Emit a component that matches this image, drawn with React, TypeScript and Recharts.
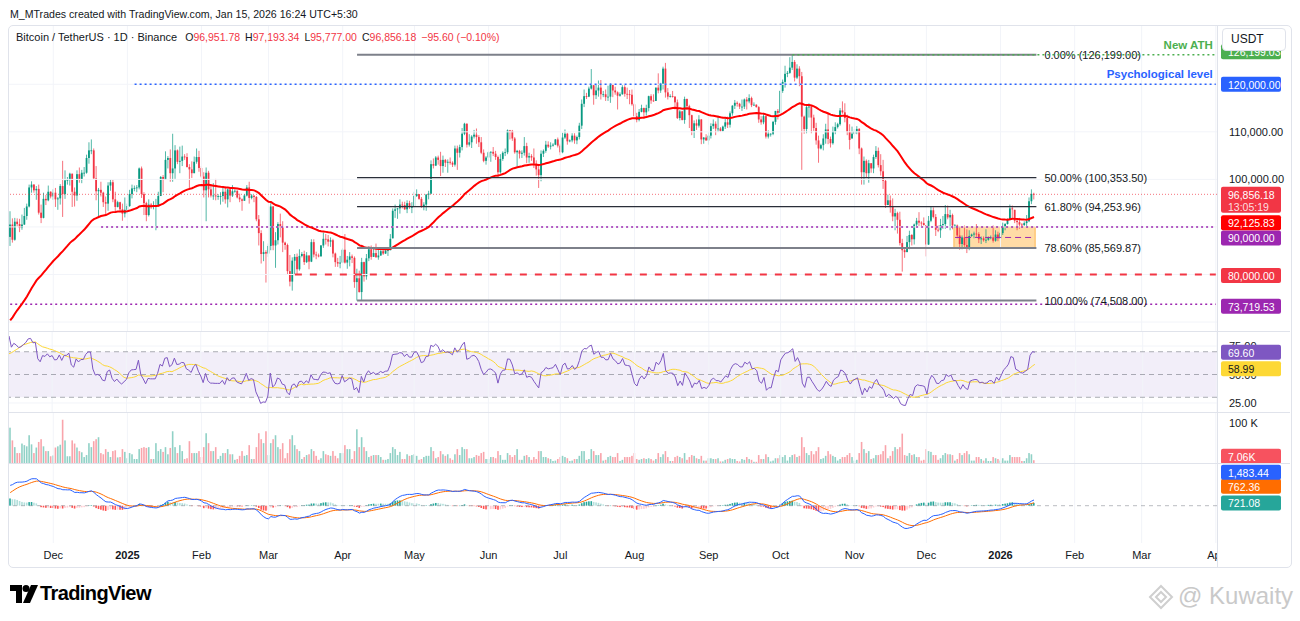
import React from 'react';
import { ComposedChart, Bar, Line, XAxis, YAxis, ReferenceLine, ReferenceArea } from 'recharts';

// Binance BTCUSDT, daily candles, prices in thousand USDT.
// First visible candle 2024-11-13, last one 2026-01-15 (still open).
const firstDay = '2024-11-13';

// closes 2024-09-14 .. 2024-11-12, only used to warm up EMA / RSI / MACD
const warmupClose = [
  60.0, 59.1, 58.2, 60.3, 61.8, 62.9, 63.2, 63.3, 63.6, 63.3, 64.3, 63.1, 65.2, 65.8, 65.9, 65.6, 63.3,
  60.8, 60.6, 60.8, 62.1, 62.1, 62.8, 62.2, 62.1, 60.6, 60.3, 62.4, 63.2, 62.9, 66.0, 67.0, 67.6,
  67.4, 68.4, 68.4, 69.0, 67.4, 67.4, 66.7, 68.2, 66.6, 67.0, 67.9, 69.9, 72.7, 72.3, 70.2,
  69.5, 69.3, 68.7, 67.8, 69.4, 75.6, 75.9, 76.5, 76.7, 80.4, 88.7, 87.9,
];

const close = [
  // Nov 2024
  90.5, 87.3, 91.1, 90.6, 89.8, 90.5, 92.3, 94.3, 98.3, 98.9, 97.7, 98.0, 93.0, 91.9, 95.9, 95.6, 97.4, 96.4,
  // Dec 2024
  97.2, 95.8, 96.0, 98.6, 96.9, 99.8, 99.9, 101.2, 97.4, 96.6, 101.1, 100.0, 101.4, 101.4, 104.5, 106.1,
  106.1, 100.2, 97.5, 97.8, 97.2, 95.2, 94.9, 98.7, 99.4, 95.8, 94.2, 95.2, 93.7, 92.8, 93.6,
  // Jan 2025
  94.4, 96.9, 98.1, 98.2, 98.3, 102.3, 96.9, 95.0, 92.5, 94.7, 94.5, 94.5, 94.5, 96.5, 100.5, 99.9,
  104.1, 104.5, 101.3, 102.3, 106.1, 103.7, 103.9, 104.8, 104.7, 102.6, 102.1, 101.3, 103.7, 104.7, 102.4,
  // Feb
  100.6, 97.7, 101.4, 97.9, 96.6, 96.6, 96.5, 96.5, 96.5, 97.4, 95.8, 97.9, 96.6, 97.5,
  97.6, 96.2, 95.8, 95.5, 96.6, 98.3, 96.1, 96.6, 96.3, 91.6, 88.7, 84.3, 84.7, 84.4,
  // Mar
  86.0, 94.3, 86.1, 87.2, 90.6, 89.9, 86.7, 86.2, 80.7, 78.5, 82.9, 83.7, 81.1, 83.9, 84.3, 82.6,
  84.0, 82.7, 86.8, 84.2, 84.0, 83.8, 86.1, 87.5, 87.4, 86.9, 87.2, 84.4, 82.6, 82.3, 82.5,
  // Apr
  85.2, 82.5, 83.1, 83.8, 83.5, 78.4, 79.2, 76.3, 82.6, 79.6, 83.4, 85.3, 83.7, 84.5, 83.6,
  84.0, 84.9, 84.4, 85.0, 85.1, 87.5, 93.4, 93.7, 93.9, 94.7, 94.6, 93.7, 95.0, 94.2, 94.2,
  // May
  96.5, 96.9, 95.9, 94.3, 94.7, 96.8, 97.0, 103.2, 102.9, 104.6, 104.1, 102.8, 104.1, 103.5, 103.7, 103.5,
  103.1, 106.5, 105.6, 106.8, 109.6, 111.7, 107.3, 107.8, 109.0, 109.4, 108.9, 107.8, 105.6, 103.9, 104.6,
  // Jun
  105.7, 105.8, 105.4, 104.7, 101.5, 104.3, 105.6, 105.7, 110.3, 110.2, 108.6, 105.7, 106.0, 105.4, 105.6,
  107.0, 104.6, 104.9, 104.6, 103.3, 102.1, 100.9, 105.4, 106.0, 107.3, 106.9, 107.1, 107.3, 108.4, 107.1,
  // Jul
  105.7, 108.8, 109.6, 108.0, 108.2, 109.2, 108.2, 108.9, 111.3, 115.9, 117.5, 117.4, 119.1, 119.8, 117.7, 118.7,
  119.3, 117.9, 117.9, 117.3, 117.4, 119.9, 118.7, 118.3, 117.6, 117.9, 119.4, 118.0, 117.9, 117.8, 115.8,
  // Aug
  113.3, 112.5, 114.2, 115.0, 114.1, 115.0, 117.5, 116.6, 116.5, 119.3, 118.7, 120.1, 123.3, 118.3, 117.4, 117.5,
  117.4, 116.2, 112.9, 114.3, 112.5, 116.9, 115.4, 113.5, 110.1, 111.8, 111.3, 112.6, 108.4, 108.8, 108.2,
  // Sep
  109.2, 111.2, 111.7, 110.7, 110.7, 110.2, 111.1, 112.0, 111.5, 113.9, 115.5, 116.1, 115.9, 115.3, 115.3,
  116.8, 116.4, 117.1, 115.6, 115.7, 115.2, 112.6, 112.0, 113.3, 109.0, 109.6, 109.6, 112.1, 114.4, 114.0,
  // Oct
  118.6, 120.5, 122.2, 122.4, 123.5, 124.7, 121.4, 123.3, 121.7, 113.2, 110.6, 115.2, 115.3, 113.0, 110.8, 108.2,
  106.5, 107.2, 108.6, 110.5, 108.5, 107.6, 110.1, 111.0, 111.6, 114.5, 114.1, 112.9, 110.0, 108.3, 109.6,
  // Nov
  110.1, 110.6, 106.5, 101.5, 103.9, 101.3, 103.4, 102.3, 104.7, 106.0, 103.0, 101.7, 99.7, 94.6, 95.6,
  94.3, 92.2, 92.9, 91.5, 86.6, 85.1, 84.7, 86.8, 88.3, 87.4, 90.5, 91.3, 90.9, 90.8, 90.4,
  // Dec
  86.3, 91.3, 93.5, 92.1, 89.4, 89.3, 90.4, 90.6, 92.7, 92.0, 92.5, 90.3, 90.3, 88.2, 86.4, 87.8,
  86.2, 85.5, 88.1, 88.4, 88.6, 88.5, 87.4, 87.6, 87.2, 87.3, 87.8, 87.8, 87.1, 88.4, 87.6,
  // Jan 2026
  88.7, 90.0, 90.6, 91.5, 93.9, 93.7, 91.3, 91.0, 90.5, 90.4, 90.8, 91.2, 95.4, 96.95178, 96.85618,
];

const high = [
  93.3, 91.8, 91.9, 91.8, 91.7, 92.6, 94.0, 94.9, 98.9, 99.6, 99.0, 98.6, 98.9, 94.7, 97.2, 96.7, 98.7, 97.5,
  97.9, 98.2, 96.3, 99.0, 103.9, 101.9, 100.5, 101.4, 101.2, 98.3, 101.9, 102.5, 102.0, 102.6, 105.2, 107.8,
  108.4, 106.5, 102.8, 98.2, 99.5, 97.4, 96.4, 99.4, 99.9, 99.9, 97.4, 95.5, 95.3, 94.9, 96.2,
  94.9, 97.8, 98.9, 98.7, 98.8, 102.5, 102.7, 97.3, 95.3, 95.8, 95.0, 95.4, 95.9, 97.4, 100.7, 100.9,
  105.9, 104.9, 106.3, 109.6, 107.2, 106.3, 106.9, 107.1, 105.3, 105.5, 103.2, 103.8, 104.8, 106.5, 106.0,
  102.8, 101.5, 102.5, 101.8, 99.0, 99.2, 100.1, 96.9, 97.3, 98.3, 98.5, 98.1, 98.1, 98.8,
  97.9, 97.7, 97.0, 96.0, 96.9, 98.8, 99.5, 96.9, 96.6, 96.5, 92.5, 89.3, 87.0, 85.1,
  86.5, 95.0, 94.4, 88.9, 91.0, 92.8, 91.2, 86.9, 86.5, 84.1, 83.6, 84.3, 84.4, 85.3, 84.7, 85.0,
  84.7, 84.0, 87.4, 87.4, 84.8, 84.4, 86.2, 88.8, 88.5, 88.3, 87.8, 87.5, 84.6, 83.5, 83.9,
  85.5, 88.5, 83.9, 84.7, 84.2, 83.8, 81.2, 80.8, 83.5, 82.7, 84.3, 85.9, 86.1, 85.8, 86.5,
  85.5, 85.5, 85.1, 85.6, 85.3, 88.5, 93.9, 94.7, 94.0, 95.8, 95.3, 95.3, 95.6, 95.5, 95.2,
  97.4, 97.9, 96.9, 96.3, 95.2, 96.9, 97.6, 104.0, 104.4, 104.9, 105.0, 105.8, 105.0, 104.3, 104.2, 104.6,
  103.8, 107.1, 107.1, 107.3, 110.8, 111.9, 111.8, 109.5, 109.3, 110.4, 110.7, 109.3, 108.9, 106.3, 104.9,
  105.9, 105.9, 106.8, 106.0, 105.0, 105.3, 105.9, 106.5, 110.5, 110.4, 110.4, 108.9, 106.2, 106.2, 106.1,
  108.9, 107.7, 105.6, 105.3, 106.5, 104.0, 103.0, 106.1, 106.3, 108.1, 108.0, 107.8, 107.6, 108.5, 108.8,
  107.5, 109.8, 110.5, 109.8, 108.4, 109.7, 109.7, 109.2, 111.9, 116.8, 118.9, 118.2, 119.5, 123.2, 119.9, 120.0,
  120.8, 120.9, 118.6, 118.9, 119.7, 120.2, 120.1, 119.5, 118.5, 118.3, 119.8, 119.8, 119.3, 118.8, 118.9,
  116.1, 114.0, 114.8, 115.7, 115.1, 115.7, 117.6, 117.9, 117.9, 119.3, 122.3, 120.3, 123.7, 124.5, 119.2, 117.9,
  118.6, 117.5, 116.8, 114.6, 114.4, 117.4, 117.0, 115.7, 113.6, 112.4, 112.6, 113.5, 112.7, 108.9, 109.5,
  109.9, 111.8, 112.6, 112.2, 113.4, 111.0, 111.3, 112.9, 113.2, 114.3, 115.6, 116.7, 116.4, 116.1, 116.8,
  117.0, 117.3, 117.9, 117.4, 116.2, 115.8, 115.4, 113.3, 113.9, 113.4, 110.3, 109.7, 112.3, 114.4, 114.8,
  118.7, 121.0, 123.9, 122.8, 125.7, 126.2, 125.1, 124.2, 123.8, 122.6, 113.4, 115.8, 116.0, 115.5, 113.6, 111.9,
  109.2, 107.5, 109.5, 111.7, 114.0, 109.0, 111.1, 112.0, 111.9, 115.0, 116.4, 116.0, 113.6, 111.6, 111.1,
  110.6, 111.2, 110.8, 106.7, 104.8, 104.2, 104.1, 103.4, 105.2, 107.0, 106.7, 105.3, 104.1, 99.9, 96.8,
  96.6, 96.0, 93.8, 93.2, 93.2, 87.5, 85.6, 88.1, 89.2, 88.5, 90.7, 91.9, 93.1, 91.2, 92.0,
  90.4, 92.3, 94.2, 94.1, 92.7, 90.3, 91.7, 92.3, 94.6, 94.5, 93.6, 92.8, 90.6, 90.5, 90.1, 88.2,
  90.3, 89.5, 89.3, 88.6, 89.0, 90.6, 88.9, 88.0, 88.0, 89.5, 88.0, 88.2, 90.3, 89.3, 89.0,
  88.9, 90.9, 90.8, 91.8, 94.7, 94.5, 93.6, 91.5, 91.9, 90.8, 91.2, 92.5, 96.2, 97.9, 97.19334,
];

const low = [
  86.0, 86.7, 87.1, 90.1, 88.9, 89.4, 90.4, 91.5, 94.1, 97.2, 97.2, 95.7, 92.6, 90.8, 91.8, 94.6, 95.4, 96.0,
  95.7, 94.2, 93.6, 94.7, 92.1, 95.9, 98.9, 98.7, 94.2, 94.3, 95.5, 99.3, 99.2, 100.6, 101.2, 103.3,
  105.3, 100.0, 95.6, 92.2, 96.4, 94.2, 92.4, 93.4, 97.6, 95.2, 93.3, 94.1, 93.1, 91.3, 92.0,
  92.8, 94.2, 96.0, 97.5, 97.3, 97.9, 96.1, 92.5, 91.2, 92.2, 93.8, 93.7, 89.3, 94.3, 96.5, 97.3,
  99.9, 102.3, 99.5, 99.5, 100.1, 103.2, 101.3, 102.8, 104.1, 102.5, 97.8, 100.3, 101.3, 103.3, 101.6,
  100.3, 96.2, 91.2, 96.2, 96.2, 95.7, 95.6, 95.7, 94.7, 95.3, 94.9, 94.1, 95.2, 96.3,
  97.2, 96.0, 95.2, 93.4, 95.5, 96.4, 94.9, 95.8, 95.2, 91.2, 86.1, 82.3, 82.8, 78.3,
  83.7, 85.1, 85.1, 81.4, 86.3, 87.8, 84.7, 85.2, 80.0, 77.5, 76.6, 79.9, 80.0, 80.8, 83.6, 82.0,
  82.4, 81.1, 82.6, 83.6, 83.2, 83.6, 83.8, 85.6, 86.3, 85.9, 85.8, 83.6, 81.6, 81.6, 81.3,
  82.4, 82.3, 81.2, 81.7, 82.4, 77.2, 74.5, 76.2, 74.6, 78.5, 78.9, 82.8, 83.1, 83.7, 83.6,
  83.1, 83.9, 84.1, 84.3, 83.9, 85.1, 87.6, 91.9, 91.7, 92.8, 93.9, 93.6, 92.9, 93.8, 92.9,
  94.1, 96.3, 95.7, 94.0, 93.5, 93.4, 95.8, 96.9, 102.3, 102.8, 103.1, 100.7, 101.4, 102.6, 101.4, 103.1,
  102.6, 102.7, 102.0, 104.6, 106.1, 109.3, 106.7, 106.9, 106.6, 108.6, 107.5, 106.8, 105.3, 103.6, 103.1,
  103.9, 103.7, 104.9, 104.1, 100.4, 101.2, 103.9, 104.9, 105.3, 108.4, 108.1, 105.4, 102.7, 104.4, 104.5,
  105.0, 103.4, 103.5, 103.9, 102.4, 100.8, 98.2, 99.6, 104.7, 105.6, 106.6, 106.3, 106.9, 107.2, 106.7,
  105.1, 105.5, 108.5, 107.3, 107.8, 107.8, 107.5, 107.4, 108.4, 110.6, 115.2, 116.9, 117.3, 118.9, 115.7, 116.9,
  117.4, 116.8, 117.3, 116.5, 116.5, 116.1, 117.3, 117.8, 114.7, 117.4, 117.8, 117.4, 116.9, 115.8, 115.5,
  112.7, 112.0, 112.2, 114.1, 112.7, 113.4, 114.3, 115.9, 116.3, 116.5, 118.1, 118.2, 118.9, 117.2, 116.8, 117.2,
  117.2, 114.7, 112.7, 112.4, 112.4, 111.7, 114.6, 110.8, 109.3, 108.7, 110.4, 110.9, 107.4, 107.5, 108.1,
  107.3, 108.6, 110.6, 109.3, 110.0, 110.0, 110.0, 110.6, 110.8, 110.9, 113.4, 114.8, 115.3, 114.8, 114.4,
  114.8, 114.7, 116.0, 115.2, 115.5, 115.1, 111.9, 111.5, 111.6, 108.6, 108.6, 109.0, 109.3, 111.5, 112.6,
  113.9, 118.2, 119.3, 121.5, 122.2, 123.0, 120.6, 121.1, 119.6, 102.0, 109.6, 109.7, 113.0, 109.7, 110.2, 107.3,
  103.5, 106.3, 106.1, 107.5, 107.4, 106.7, 107.3, 109.5, 110.7, 111.3, 113.8, 112.0, 109.3, 106.3, 108.6,
  109.4, 109.5, 105.3, 98.9, 98.9, 100.3, 99.3, 101.4, 101.3, 104.3, 102.5, 100.8, 98.0, 94.0, 94.6,
  93.0, 91.2, 89.3, 88.6, 86.1, 80.6, 83.5, 84.7, 85.3, 86.1, 86.3, 90.1, 90.2, 90.2, 90.3,
  83.8, 86.2, 91.0, 91.8, 88.1, 88.9, 87.7, 89.6, 89.6, 91.6, 89.3, 89.5, 89.8, 87.6, 85.2, 85.3,
  85.8, 84.5, 85.1, 87.9, 87.6, 87.9, 86.6, 86.4, 86.9, 86.6, 87.1, 87.4, 86.7, 86.9, 87.0,
  87.5, 88.3, 89.3, 90.5, 91.4, 91.9, 90.8, 89.3, 89.6, 90.1, 90.2, 90.2, 91.0, 94.8, 95.777,
];

// volume, thousand BTC
const volume = [
  89, 57, 40, 25, 25, 49, 45, 42, 70, 47, 25, 39, 53, 60, 42, 30, 30, 17,
  19, 39, 42, 46, 109, 57, 17, 17, 57, 49, 39, 30, 27, 15, 20, 50,
  40, 55, 60, 65, 25, 22, 35, 28, 15, 30, 32, 14, 15, 35, 28,
  12, 25, 22, 10, 10, 35, 38, 40, 38, 40, 10, 10, 50, 30, 35, 28,
  40, 22, 38, 80, 40, 25, 45, 30, 10, 12, 55, 25, 25, 25, 30,
  15, 40, 75, 50, 30, 30, 40, 10, 18, 25, 25, 35, 22, 22,
  8, 10, 18, 30, 18, 20, 45, 10, 10, 40, 75, 60, 50, 80,
  20, 50, 60, 70, 40, 35, 50, 12, 25, 60, 70, 45, 35, 30, 10, 15,
  20, 22, 35, 30, 18, 8, 12, 30, 22, 20, 18, 30, 18, 12, 25,
  25, 45, 35, 35, 10, 30, 85, 40, 65, 40, 30, 15, 18, 20, 20,
  20, 15, 8, 8, 10, 25, 40, 35, 20, 28, 10, 10, 22, 18, 20,
  22, 18, 8, 10, 15, 18, 18, 40, 30, 12, 15, 30, 22, 18, 22, 12,
  8, 22, 35, 20, 40, 35, 35, 12, 12, 15, 20, 18, 25, 28, 10,
  10, 15, 15, 12, 30, 20, 8, 8, 25, 20, 15, 20, 35, 8, 8,
  18, 20, 15, 8, 15, 10, 30, 30, 15, 15, 12, 10, 5, 6, 10,
  15, 18, 15, 12, 5, 6, 10, 10, 18, 30, 30, 8, 10, 35, 30, 20,
  20, 25, 6, 8, 15, 18, 15, 15, 25, 5, 8, 15, 15, 15, 18,
  25, 10, 8, 10, 12, 10, 12, 10, 6, 10, 25, 15, 22, 30, 15, 5,
  5, 15, 18, 15, 12, 25, 8, 15, 20, 18, 12, 10, 18, 6, 6,
  12, 12, 10, 10, 12, 4, 4, 8, 10, 12, 10, 10, 5, 4, 10,
  8, 15, 10, 8, 3, 3, 20, 10, 10, 22, 15, 4, 6, 12, 12,
  20, 15, 20, 6, 15, 20, 22, 15, 18, 65, 40, 25, 20, 30, 22, 30,
  40, 10, 12, 18, 30, 22, 18, 15, 6, 10, 15, 15, 20, 25, 15,
  6, 8, 25, 53, 35, 25, 30, 10, 12, 20, 20, 22, 30, 45, 12,
  18, 30, 40, 35, 40, 74, 20, 18, 25, 20, 22, 15, 15, 6, 8,
  35, 30, 28, 20, 20, 8, 12, 20, 25, 22, 22, 20, 6, 10, 25, 20,
  25, 30, 22, 6, 6, 15, 15, 10, 6, 12, 5, 5, 15, 12, 10,
  6, 12, 6, 6, 20, 15, 15, 15, 15, 5, 5, 12, 25, 22, 7.06,
];

// time axis
const tickDates = [
  '2024-12-01', '2025-01-01', '2025-02-01', '2025-03-01', '2025-04-01', '2025-05-01', '2025-06-01',
  '2025-07-01', '2025-08-01', '2025-09-01', '2025-10-01', '2025-11-01', '2025-12-01', '2026-01-01',
  '2026-02-01', '2026-03-01', '2026-04-01',
];
const tickLabels = ['Dec', '2025', 'Feb', 'Mar', 'Apr', 'May', 'Jun', 'Jul', 'Aug', 'Sep', 'Oct', 'Nov', 'Dec', '2026', 'Feb', 'Mar', 'Apr'];

// drawings
const fibFrom = '2025-04-07';
const fibTo = '2026-01-16';
const fibPct = ['0.00%', '50.00%', '61.80%', '78.60%', '100.00%'];
const fibPrice = [126.199, 100.3535, 94.25396, 85.56987, 74.508];
const athPrice = 126.19903;
const athFrom = '2025-10-06';
const psychPrice = 120;
const psychFrom = '2025-01-04';
const supportPrice = 90;
const supportFrom = '2024-12-21';
const stopPrice = 80;
const stopFrom = '2025-03-12';
const floorPrice = 73.71953;
const boxFrom = '2025-12-13';
const boxTo = '2026-01-15';
const boxLow = 85.56987;
const boxHigh = 90;

// values printed on the scales
const emaReadout = 92.12583;
const rsiReadout = [69.6, 58.99];
const rsiScale = [75, 50, 25];
const macdReadout = [1.48344, 0.76236, 0.72108];
const countdown = '13:05:19';

// ---------------------------------------------------------------------------

const FONT = '"Liberation Sans", Arial, sans-serif';
const TEXT = '#131722';
const GRID = '#f2f4f9';
const UP = '#089981';
const DOWN = '#f23645';
const TAG_X = 1221;
const TAG_W = 60;

const dayIdx = (s: string) => Math.round((Date.parse(s) - Date.parse(firstDay)) / 86400000);
const tickIdx = tickDates.map(dayIdx);
const SLOTS = tickIdx[tickIdx.length - 1] + 1;
const lastSlot = SLOTS - 1;
const fmt = (v: number) => v.toLocaleString('en-US', { minimumFractionDigits: 2, maximumFractionDigits: 2 });

function ema(src: number[], n: number) {
  const k = 2 / (n + 1);
  const out: number[] = [];
  src.forEach((v, i) => out.push(i === 0 ? v : v * k + out[i - 1] * (1 - k)));
  return out;
}

function rsi(src: number[], n: number) {
  const out: (number | null)[] = src.map(() => null);
  let up = 0;
  let dn = 0;
  for (let i = 1; i < src.length; i++) {
    const d = src[i] - src[i - 1];
    const g = Math.max(d, 0);
    const l = Math.max(-d, 0);
    if (i <= n) {
      up += g / n;
      dn += l / n;
    } else {
      up = (up * (n - 1) + g) / n;
      dn = (dn * (n - 1) + l) / n;
    }
    if (i >= n) out[i] = dn === 0 ? 100 : 100 - 100 / (1 + up / dn);
  }
  return out;
}

function sma(src: (number | null)[], n: number) {
  return src.map((_, i) => {
    if (i < n - 1) return null;
    const w = src.slice(i - n + 1, i + 1);
    if (w.some((v) => v == null)) return null;
    return (w as number[]).reduce((a, b) => a + b, 0) / n;
  });
}

const W = warmupClose.length;
const allClose = [...warmupClose, ...close];
const ema50 = ema(allClose, 50);
const rsi14 = rsi(allClose, 14);
const rsiMa = sma(rsi14, 14);
const ema12 = ema(allClose, 12);
const ema26 = ema(allClose, 26);
const macd = ema12.map((v, k) => v - ema26[k]);
const signal = ema(macd, 9);

const rows: any[] = Array.from({ length: SLOTS }, (_, i) => {
  if (i >= close.length) return { i };
  const k = W + i;
  const o = allClose[k - 1];
  const c = close[i];
  const hist = macd[k] - signal[k];
  const prevHist = macd[k - 1] - signal[k - 1];
  let histColor = '#26a69a';
  if (hist >= 0) histColor = hist >= prevHist ? '#26a69a' : '#b2dfdb';
  else histColor = hist < prevHist ? '#ff5252' : '#ffcdd2';
  return {
    i, o, c, h: high[i], l: low[i], v: volume[i], up: c >= o,
    ema: ema50[k], rsi: rsi14[k], rsiMa: rsiMa[k],
    macd: macd[k], signal: signal[k], hist, histColor,
  };
});
const last = rows[close.length - 1];

const Candle = (p: any) => {
  const { x, y, width, height, payload: d } = p;
  if (!d || d.c == null || !height) return null;
  const cx = x + width / 2;
  const span = d.h - d.l || 1;
  const py = (v: number) => Math.min(Math.max(y + ((d.h - v) / span) * height, y), y + height);
  const yo = py(d.o);
  const yc = py(d.c);
  const col = d.up ? UP : DOWN;
  return (
    <g>
      <line x1={cx} x2={cx} y1={y} y2={y + height} stroke={col} strokeOpacity={0.7} />
      <rect x={cx - 0.9} y={Math.min(yo, yc)} width={1.8} height={Math.max(Math.abs(yc - yo), 0.8)} fill={col} />
    </g>
  );
};

const VolBar = (p: any) => {
  const { x, y, width, height, payload: d } = p;
  if (!d || d.v == null) return null;
  return (
    <rect x={x + width / 2 - 0.8} y={y} width={1.6} height={Math.max(height, 0.5)}
      fill={d.up ? 'rgba(8,153,129,0.45)' : 'rgba(242,54,69,0.45)'} />
  );
};

const HistBar = (p: any) => {
  const { x, y, width, height, payload: d } = p;
  if (!d || d.hist == null) return null;
  return (
    <rect x={x + width / 2 - 0.8} y={Math.min(y, y + height)} width={1.6} height={Math.max(Math.abs(height), 0.4)} fill={d.histColor} />
  );
};

function tag(text: string, bg: string, dy = 0, fg = '#fff', sub?: string) {
  return (p: any) => {
    const y = p.viewBox.y + dy;
    return (
      <g>
        <rect x={TAG_X} y={y - 7.5} width={TAG_W} height={sub ? 26 : 15} rx={2} fill={bg} />
        <text x={TAG_X + 7} y={y + 0.5} dominantBaseline="central" fontSize={10.5} fill={fg}>{text}</text>
        {sub && (
          <text x={TAG_X + 7} y={y + 12.5} dominantBaseline="central" fontSize={10.5} fill={fg} fillOpacity={0.85}>{sub}</text>
        )}
      </g>
    );
  };
}

function tagWithNote(text: string, bg: string, note: string, dy = 0) {
  const t = tag(text, bg, dy);
  return (p: any) => (
    <g>
      <text x={p.viewBox.x + p.viewBox.width - 3} y={p.viewBox.y - 10} textAnchor="end" dominantBaseline="central"
        fontSize={11.5} fontWeight={600} fill={bg}>{note}</text>
      {t(p)}
    </g>
  );
}

// plain scale text drawn as a label so that the coloured tags can sit on top of it
const scaleText = (text: string) => (p: any) => (
  <text x={TAG_X + 8} y={p.viewBox.y} dominantBaseline="central" fontSize={11} fill={TEXT}>{text}</text>
);

const fibLabel = (i: number) => (p: any) => (
  <text x={p.viewBox.x + p.viewBox.width + 8} y={p.viewBox.y} dominantBaseline="central" fontSize={11} fill={TEXT}>
    {`${fibPct[i]} (${fmt(fibPrice[i] * 1000)})`}
  </text>
);

const axisProps = { orientation: 'right' as const, width: 83, allowDataOverflow: true, axisLine: false, tickLine: false, tickSize: 0, tickMargin: 0 };
const margin = { top: 0, right: 0, bottom: 0, left: 9 };
const monthGrid = () => tickIdx.map((t) => <ReferenceLine key={'m' + t} x={t} stroke={GRID} />);

const PriceTick = (p: any) => (
  <text x={p.x + 12} y={p.y} dominantBaseline="central" fontSize={11} fill={TEXT}>{fmt(p.payload.value * 1000)}</text>
);

function PricePane() {
  const fFrom = dayIdx(fibFrom);
  const fTo = dayIdx(fibTo);
  const bFrom = dayIdx(boxFrom);
  const bTo = dayIdx(boxTo);
  const boxMid = (boxLow + boxHigh) / 2;
  return (
    <ComposedChart width={1300} height={305} data={rows} margin={margin} barCategoryGap={0} barGap={0}>
      <XAxis dataKey="i" type="category" hide />
      <YAxis {...axisProps} domain={[68.11, 132.26]} ticks={[70, 100, 110]} tick={PriceTick} />
      {monthGrid()}
      {[70, 80, 90, 100, 110, 120].map((p) => <ReferenceLine key={'g' + p} y={p} stroke={GRID} />)}
      <ReferenceArea x1={bFrom} x2={bTo} y1={boxLow} y2={boxHigh} fill="#ffb74d" fillOpacity={0.5} stroke="#ff9800" strokeOpacity={0.6} />
      <ReferenceLine segment={[{ x: bFrom, y: boxMid }, { x: bTo, y: boxMid }]} stroke="#9c27b0" strokeDasharray="6 4" />
      <ReferenceLine y={close[close.length - 1]} stroke={DOWN} strokeOpacity={0.7} strokeDasharray="1 2"
        label={tag(fmt(close[close.length - 1] * 1000), DOWN, 0, '#fff', countdown)} />
      <ReferenceLine segment={[{ x: 0, y: floorPrice }, { x: lastSlot, y: floorPrice }]} stroke="#9c27b0" strokeWidth={1.5} strokeDasharray="2 3"
        label={tag(fmt(floorPrice * 1000), '#9c27b0', 2)} />
      <ReferenceLine segment={[{ x: dayIdx(stopFrom), y: stopPrice }, { x: lastSlot, y: stopPrice }]} stroke="#f23645" strokeWidth={2} strokeDasharray="7 8"
        label={tag(fmt(stopPrice * 1000), '#f23645', 1)} />
      <ReferenceLine segment={[{ x: dayIdx(supportFrom), y: supportPrice }, { x: lastSlot, y: supportPrice }]} stroke="#9c27b0" strokeWidth={1.5} strokeDasharray="2 3"
        label={tag(fmt(supportPrice * 1000), '#9c27b0', 11)} />
      <ReferenceLine segment={[{ x: dayIdx(psychFrom), y: psychPrice }, { x: lastSlot, y: psychPrice }]} stroke="#2962ff" strokeWidth={1.5} strokeDasharray="2 3"
        label={tagWithNote(fmt(psychPrice * 1000), '#2962ff', 'Psychological level')} />
      <Bar dataKey={(r: any) => (r.c == null ? null : [r.l, r.h])} shape={Candle} isAnimationActive={false} />
      <Line dataKey="ema" stroke="#ff0000" strokeWidth={2} dot={false} isAnimationActive={false} />
      {fibPrice.map((p, i) => (
        <ReferenceLine key={'f' + i} segment={[{ x: fFrom, y: p }, { x: fTo, y: p }]}
          stroke={i === 1 || i === 2 ? '#2a2e39' : '#7d808a'} strokeWidth={i === 1 || i === 2 ? 1.2 : 2}
          label={fibLabel(i)} />
      ))}
      <ReferenceLine segment={[{ x: dayIdx(athFrom), y: athPrice }, { x: lastSlot, y: athPrice }]} stroke="#4caf50" strokeWidth={1.5} strokeDasharray="2 3"
        label={tagWithNote(fmt(athPrice * 1000), '#4caf50', 'New ATH', -3)} />
      <ReferenceLine y={emaReadout} stroke="none" label={tag(fmt(emaReadout * 1000), '#ff0000', 6)} />
    </ComposedChart>
  );
}

function RsiPane() {
  return (
    <ComposedChart width={1300} height={82} data={rows} margin={margin}>
      <XAxis dataKey="i" type="category" hide />
      <YAxis {...axisProps} domain={[16.2, 88.2]} ticks={[]} />
      {monthGrid()}
      {[25, 75].map((v) => <ReferenceLine key={'g' + v} y={v} stroke={GRID} />)}
      <ReferenceArea y1={30} y2={70} fill="#7e57c2" fillOpacity={0.1} stroke="none" />
      {[70, 50, 30].map((v) => <ReferenceLine key={'b' + v} y={v} stroke="#787b86" strokeOpacity={0.6} strokeDasharray="5 4" />)}
      <Line dataKey="rsiMa" stroke="#fdd835" strokeWidth={1} dot={false} isAnimationActive={false} />
      <Line dataKey="rsi" stroke="#7e57c2" strokeWidth={1} dot={false} isAnimationActive={false} />
      {rsiScale.map((v) => <ReferenceLine key={'s' + v} y={v} stroke="none" label={scaleText(v.toFixed(2))} />)}
      <ReferenceLine y={rsiReadout[0]} stroke="none" label={tag(rsiReadout[0].toFixed(2), '#7e57c2')} />
      <ReferenceLine y={rsiReadout[1]} stroke="none" label={tag(rsiReadout[1].toFixed(2), '#fdd835', 4.5, TEXT)} />
    </ComposedChart>
  );
}

const VolTick = (p: any) => (
  <text x={p.x + 12} y={p.y} dominantBaseline="central" fontSize={11} fill={TEXT}>{`${p.payload.value} K`}</text>
);

function VolumePane() {
  return (
    <ComposedChart width={1300} height={50} data={rows} margin={margin} barCategoryGap={0} barGap={0}>
      <XAxis dataKey="i" type="category" hide />
      <YAxis {...axisProps} domain={[0, 126]} ticks={[100]} tick={VolTick} />
      {monthGrid()}
      <Bar dataKey="v" shape={VolBar} isAnimationActive={false} />
      <ReferenceLine y={last.v} stroke="none" label={tag(`${last.v.toFixed(2)}K`, '#f7525f', -4)} />
    </ComposedChart>
  );
}

const XTick = (p: any) => {
  const n = tickIdx.indexOf(p.payload.value);
  const label = tickLabels[n];
  const bold = /^\d{4}$/.test(label);
  return (
    <text x={p.x} y={p.y + 12} textAnchor="middle" dominantBaseline="central" fontSize={11} fontWeight={bold ? 700 : 400} fill={TEXT}>
      {label}
    </text>
  );
};

function MacdPane() {
  return (
    <ComposedChart width={1300} height={104} data={rows} margin={margin} barCategoryGap={0} barGap={0}>
      <XAxis dataKey="i" type="category" ticks={tickIdx} interval={0} tick={XTick} height={24}
        axisLine={false} tickLine={false} tickSize={0} tickMargin={0} />
      <YAxis {...axisProps} domain={[-9.7, 11.1]} ticks={[]} />
      {monthGrid()}
      <ReferenceLine y={0} stroke="#787b86" strokeOpacity={0.5} strokeDasharray="4 4" />
      <Bar dataKey="hist" shape={HistBar} isAnimationActive={false} />
      <Line dataKey="signal" stroke="#ff6d00" strokeWidth={1} dot={false} isAnimationActive={false} />
      <Line dataKey="macd" stroke="#2962ff" strokeWidth={1} dot={false} isAnimationActive={false} />
      <ReferenceLine y={macdReadout[2]} stroke="none" label={tag(fmt(macdReadout[2] * 1000), '#26a69a')} />
      <ReferenceLine y={macdReadout[1]} stroke="none" label={tag(fmt(macdReadout[1] * 1000), '#ff6d00', -16.5)} />
      <ReferenceLine y={macdReadout[0]} stroke="none" label={tag(fmt(macdReadout[0] * 1000), '#2962ff', -27.7)} />
    </ComposedChart>
  );
}

function Legend() {
  const o = last.o * 1000;
  const c = last.c * 1000;
  const chg = c - o;
  const pct = (chg / o) * 100;
  const col = chg >= 0 ? UP : DOWN;
  const sign = (v: number, s: string) => (v < 0 ? '\u2212' + s.replace('-', '') : '+' + s);
  const item = (k: string, v: number) => (
    <span style={{ marginLeft: 5 }}>
      {k}
      <span style={{ color: col }}>{fmt(v)}</span>
    </span>
  );
  return (
    <div style={{ position: 'absolute', left: 16, top: 31, fontSize: 11, color: TEXT, whiteSpace: 'nowrap' }}>
      <span>Bitcoin / TetherUS · 1D · Binance</span>
      <span style={{ fontSize: 10.5, marginLeft: 3 }}>
        {item('O', o)}
        {item('H', last.h * 1000)}
        {item('L', last.l * 1000)}
        {item('C', c)}
        <span style={{ marginLeft: 5, color: col }}>
          {sign(chg, fmt(chg))} ({sign(pct, pct.toFixed(2))}%)
        </span>
      </span>
    </div>
  );
}

export default function App() {
  const hLine = (top: number) => (
    <div style={{ position: 'absolute', left: 9, top, width: 1281, height: 1, background: '#e0e3eb' }} />
  );
  return (
    <div style={{ position: 'absolute', left: 0, top: 0, width: 1300, height: 621, background: '#fff', fontFamily: FONT, color: TEXT, overflow: 'hidden' }}>
      <div style={{ position: 'absolute', left: 10, top: 8, fontSize: 10.6, whiteSpace: 'nowrap' }}>
        M_MTrades created with TradingView.com, Jan 15, 2026 16:24 UTC+5:30
      </div>
      <div style={{ position: 'absolute', left: 0, top: 26 }}><PricePane /></div>
      <div style={{ position: 'absolute', left: 0, top: 331 }}><RsiPane /></div>
      <div style={{ position: 'absolute', left: 0, top: 413 }}><VolumePane /></div>
      <div style={{ position: 'absolute', left: 0, top: 463 }}><MacdPane /></div>
      <Legend />
      {hLine(331)}
      {hLine(412)}
      {hLine(463)}
      <div style={{ position: 'absolute', left: 1217, top: 25, width: 1, height: 542, background: '#e0e3eb' }} />
      <div style={{ position: 'absolute', left: 1218, top: 545, width: 70, height: 20, background: '#fff' }} />
      <div style={{ position: 'absolute', left: 8, top: 25, width: 1282, height: 541, border: '1px solid #e0e3eb', borderRadius: 5 }} />
      <div style={{ position: 'absolute', left: 1222, top: 28, width: 64, height: 23, background: '#fff', border: '1px solid #e0e3eb', borderRadius: 4, fontSize: 12, lineHeight: '21px', paddingLeft: 8, boxSizing: 'border-box' }}>
        USDT
      </div>
      <svg style={{ position: 'absolute', left: 10, top: 585 }} width={30} height={18}>
        <path d="M0 0 H12 V18 H6 V6 H0 Z" fill="#000" />
        <circle cx={16} cy={3.5} r={3.5} fill="#000" />
        <path d="M21 0 H28 L20 18 H13 Z" fill="#000" />
      </svg>
      <div style={{ position: 'absolute', left: 40, top: 582, fontSize: 20, fontWeight: 700, letterSpacing: -0.6, color: '#000' }}>TradingView</div>
      <svg style={{ position: 'absolute', left: 1148, top: 584 }} width={26} height={26}>
        <path d="M13 2 L24 13 L13 24 L2 13 Z" fill="none" stroke="#cfcfcf" strokeWidth={2} />
        <path d="M13 8 L18 13 L13 18 L8 13 Z" fill="none" stroke="#cfcfcf" strokeWidth={2} />
      </svg>
      <div style={{ position: 'absolute', left: 1178, top: 582, fontSize: 24, fontWeight: 300, color: '#c9c9c9', whiteSpace: 'nowrap' }}>@ Kuwaity</div>
    </div>
  );
}
